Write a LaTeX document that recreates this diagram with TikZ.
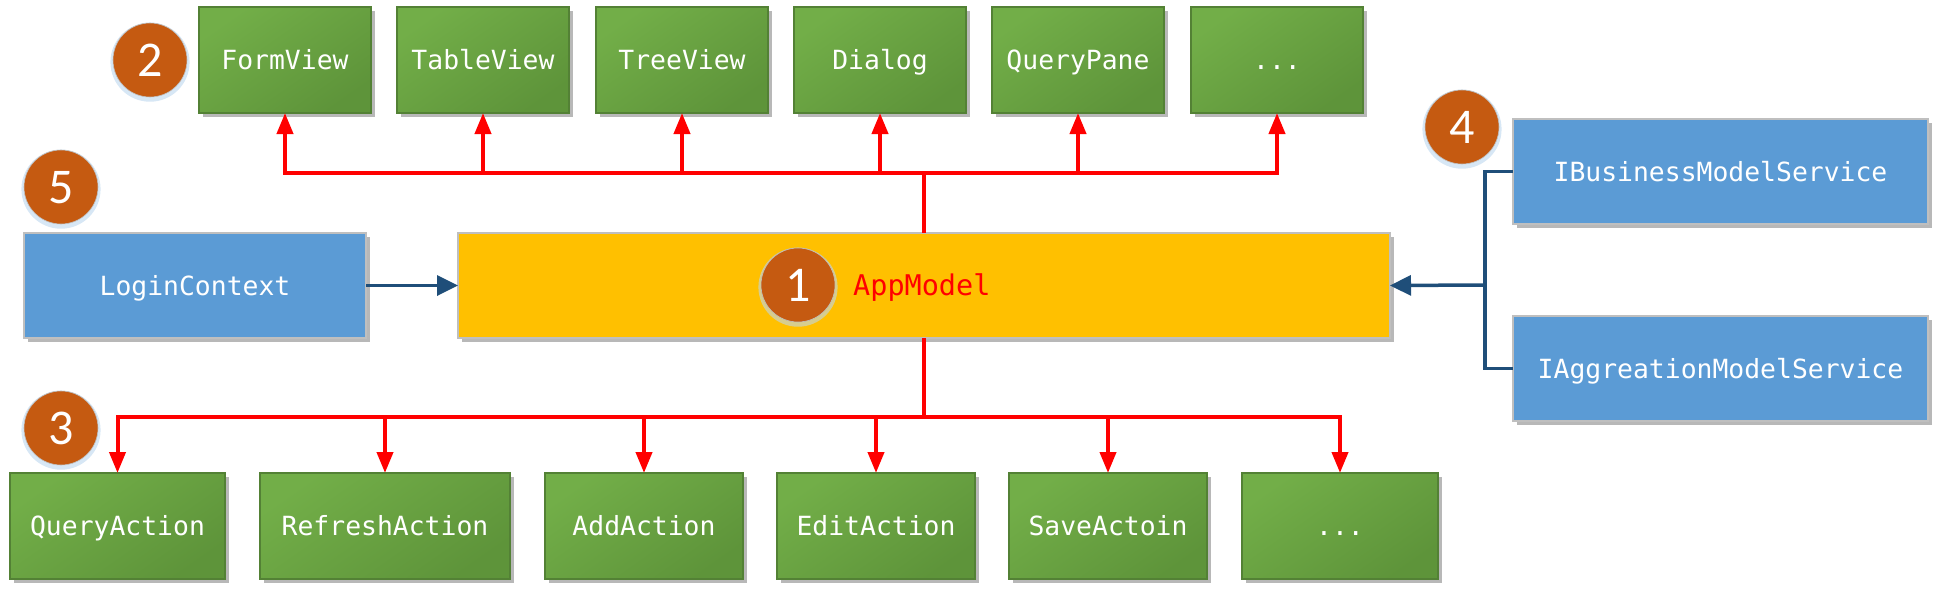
\documentclass[tikz,border=0pt]{standalone}
\usepackage{fontspec}
\setmonofont{DejaVu Sans Mono}
\newfontfamily\numfont{Carlito}
\usetikzlibrary{shadows,arrows.meta}
\definecolor{gtop}{HTML}{72AE48}
\definecolor{gbot}{HTML}{5E943A}
\definecolor{gbord}{HTML}{538135}
\definecolor{bfill}{HTML}{5B9BD5}
\definecolor{lbord}{HTML}{BFBFBF}
\definecolor{afill}{HTML}{FFC000}
\definecolor{cfill}{HTML}{C55A11}
\definecolor{lineblue}{HTML}{1F4E79}
\definecolor{linered}{HTML}{FF0000}
\definecolor{glow}{HTML}{BDD7EE}
\tikzset{
  box/.style={rectangle, inner sep=0pt, outer sep=0pt, anchor=north west,
    font=\fontsize{26.4}{30}\selectfont\ttfamily, text=white,
    text height=19pt, text depth=0pt,
    drop shadow={shadow xshift=4pt, shadow yshift=-4pt, opacity=0.28, fill=black}},
  gbox/.style={box, draw=gbord, line width=1.5pt, top color=gtop, bottom color=gbot,
    shading angle=35, minimum height=106pt},
  bbox/.style={box, draw=lbord, line width=1.2pt, fill=bfill, minimum height=105pt},
  num/.style={circle, fill=cfill, draw=black!25, line width=0.6pt, minimum size=74pt,
    inner sep=0pt, text=white, font=\fontsize{50}{50}\selectfont\numfont,
    text height=32pt, text depth=0pt,
    drop shadow={shadow xshift=0pt, shadow yshift=-2pt, shadow scale=1.07, opacity=0.6, fill=glow}},
  redl/.style={draw=linered, line width=4pt},
  redarr/.style={redl, -{Triangle[length=21pt,width=16pt]}},
  bluel/.style={draw=lineblue, line width=3.5pt},
  bluearr/.style={bluel, -{Triangle[length=21pt,width=20pt]}},
}
\begin{document}
\begin{tikzpicture}[x=1pt,y=-1pt]
\useasboundingbox (0,0) rectangle (1948,597);
% top row
\node[gbox, minimum width=172pt] (fv) at (199,7) {FormView};
\node[gbox, minimum width=172pt] (tv) at (397,7) {TableView};
\node[gbox, minimum width=172pt] (trv) at (596,7) {TreeView};
\node[gbox, minimum width=172pt] (dlg) at (794,7) {Dialog};
\node[gbox, minimum width=172pt] (qp) at (992,7) {QueryPane};
\node[gbox, minimum width=172pt] (tdots) at (1191,7) {...};
% middle
\node[bbox, minimum width=342pt] (lc) at (24,233) {LoginContext};
\node[box, draw=lbord, line width=1.2pt, fill=afill, minimum width=932pt, minimum height=105pt] (app) at (458,233) {};
\node[anchor=west, inner sep=0pt, font=\fontsize{28.5}{32}\selectfont\ttfamily, text=linered,
  text height=20.5pt, text depth=0pt] (applabel) at (853,285) {AppModel};
\node[bbox, minimum width=415pt] (ibm) at (1513,119) {IBusinessModelService};
\node[bbox, minimum width=415pt] (iam) at (1513,316) {IAggreationModelService};
% bottom row
\node[gbox, minimum width=215pt] (qa) at (10,473) {QueryAction};
\node[gbox, minimum width=250pt] (ra) at (260,473) {RefreshAction};
\node[gbox, minimum width=198pt] (aa) at (545,473) {AddAction};
\node[gbox, minimum width=198pt] (ea) at (777,473) {EditAction};
\node[gbox, minimum width=198pt] (sa) at (1009,473) {SaveActoin};
\node[gbox, minimum width=196pt] (bdots) at (1242,473) {...};
% numbered circles
\node[num] (n1) at (798,285) {1};
\node[num] (n2) at (150,60) {2};
\node[num] (n3) at (61,428) {3};
\node[num] (n4) at (1462,127) {4};
\node[num] (n5) at (61,187) {5};
% red connectors top
\coordinate (tb) at (app.north |- 0,173);
\draw[redl] (app.north) -- (tb);
\foreach \t in {fv,tv,trv,dlg,qp,tdots} \draw[redarr] (tb) -| (\t.south);
% red connectors bottom
\coordinate (bb) at (app.south |- 0,417);
\draw[redl] (app.south) -- (bb);
\foreach \t in {qa,ra,aa,ea,sa,bdots} \draw[redarr] (bb) -| (\t.north);
% blue connectors
\draw[bluearr] (lc.east) -- (app.west);
\coordinate (rj) at (1485,285);
\draw[bluel] (ibm.west) -| (rj) |- (iam.west);
\draw[bluearr] (rj) -- (app.east);
\end{tikzpicture}
\end{document}
